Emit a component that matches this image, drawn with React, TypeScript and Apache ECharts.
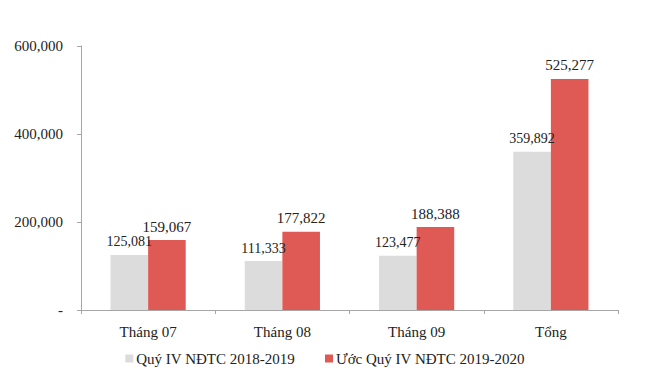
import React, { useEffect, useRef } from "react";
import * as echarts from "echarts";

const categories = ["Tháng 07", "Tháng 08", "Tháng 09", "Tổng"];
const seriesNames = ["Quý IV NĐTC 2018-2019", "Ước Quý IV NĐTC 2019-2020"];
const prevYear = [125081, 111333, 123477, 359892];
const estYear = [159067, 177822, 188388, 525277];
const yTicks = [0, 200000, 400000, 600000];

const fmt = (v: number) => (v === 0 ? "-" : v.toLocaleString("en-US"));
const FONT = "Liberation Serif";

export default function App() {
  const ref = useRef<HTMLDivElement>(null);
  useEffect(() => {
    if (!ref.current) return;
    const chart = echarts.init(ref.current, undefined, { renderer: "svg" });
    chart.setOption({
      animation: false,
      textStyle: { fontFamily: FONT },
      grid: { left: 81, right: 32, top: 46, bottom: 67 },
      legend: {
        bottom: 6,
        left: "center",
        itemWidth: 8,
        itemHeight: 8,
        itemGap: 30,
        icon: "rect",
        textStyle: { fontFamily: FONT, fontSize: 15, color: "#222", padding: [0, 0, 0, -2] },
        data: seriesNames,
      },
      xAxis: {
        type: "category",
        data: categories,
        axisLine: { show: true, lineStyle: { color: "#a6a6a6", width: 1 } },
        axisTick: { show: true, length: 4, lineStyle: { color: "#a6a6a6" } },
        axisLabel: { fontFamily: FONT, fontSize: 15, color: "#222", margin: 14 },
      },
      yAxis: {
        type: "value",
        min: yTicks[0],
        max: yTicks[yTicks.length - 1],
        interval: 200000,
        axisLine: { show: true, lineStyle: { color: "#a6a6a6", width: 1 } },
        axisTick: { show: true, length: 4, lineStyle: { color: "#a6a6a6" } },
        splitLine: { show: false },
        axisLabel: {
          fontFamily: FONT,
          fontSize: 15,
          color: "#222",
          margin: 18,
          formatter: (v: number) => fmt(v),
        },
      },
      series: [
        {
          name: seriesNames[0],
          type: "bar",
          data: prevYear,
          barGap: "0%",
          barCategoryGap: "44%",
          itemStyle: { color: "#dcdcdc" },
          label: {
            show: true,
            position: "top",
            distance: 6,
            fontFamily: FONT,
            fontSize: 14,
            color: "#222",
            formatter: (p: any) => fmt(p.value),
          },
        },
        {
          name: seriesNames[1],
          type: "bar",
          data: estYear,
          barGap: "0%",
          barCategoryGap: "44%",
          itemStyle: { color: "#e05a55" },
          label: {
            show: true,
            position: "top",
            distance: 6,
            fontFamily: FONT,
            fontSize: 15,
            color: "#222",
            formatter: (p: any) => fmt(p.value),
          },
        },
      ],
    });
    return () => chart.dispose();
  }, []);
  return <div ref={ref} style={{ width: 650, height: 377, position: "absolute", left: 0, top: 0 }} />;
}
